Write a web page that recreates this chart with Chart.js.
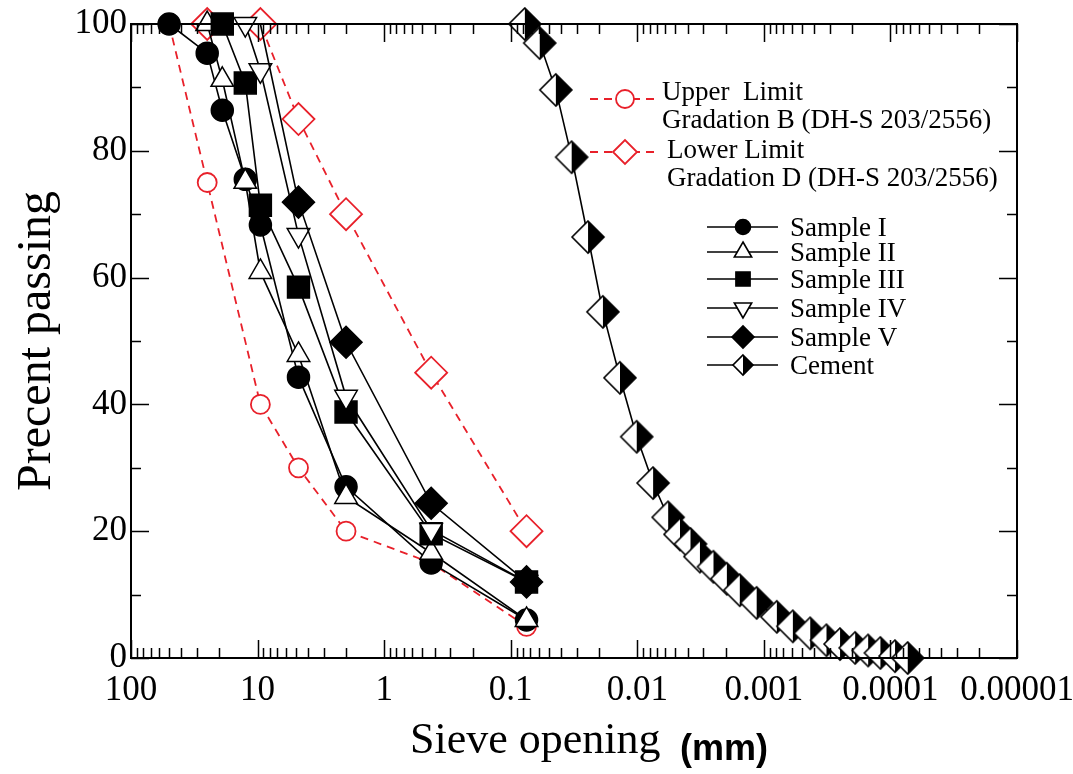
<!DOCTYPE html>
<html lang="en">
<head>
<meta charset="UTF-8">
<title>Gradation curves</title>
<style>
  body { margin: 0; background: #fff; }
  #wrap { width: 1073px; height: 774px; }
</style>
</head>
<body>
<div id="wrap"><canvas id="chart" width="1073" height="774"></canvas></div>
<script src="https://cdn.jsdelivr.net/npm/chart.js"></script>
<script>
// sieve opening (mm) / percent passing
const upperX = [50, 25, 9.5, 4.75, 2.0, 0.425, 0.075];
const upperY = [100, 75, 40, 30, 20, 15, 5];
const lowerX = [25, 9.5, 4.75, 2.0, 0.425, 0.075];
const lowerY = [100, 100, 85, 70, 45, 20];

const s1X = [50, 25, 19, 12.5, 9.5, 4.75, 2.0, 0.425, 0.075];
const s1Y = [100, 95.4, 86.4, 75.5, 68.3, 44.3, 27, 15, 6];
const s2X = [25, 19, 12.5, 9.5, 4.75, 2.0, 0.425, 0.075];
const s2Y = [100, 91.2, 75.1, 60.9, 47.8, 25.4, 16.6, 6];
const s3X = [19, 12.5, 9.5, 4.75, 2.0, 0.425, 0.075];
const s3Y = [100, 90.7, 71.4, 58.5, 38.8, 19.6, 12];
const s4X = [12.5, 9.5, 4.75, 2.0, 0.425, 0.075];
const s4Y = [100, 92.7, 66.7, 41.2, 20.2, 12];
const s5X = [9.5, 4.75, 2.0, 0.425, 0.075];
const s5Y = [100, 71.9, 49.8, 24.4, 12];

const cementX = [0.0773, 0.059, 0.044, 0.033, 0.0245, 0.0187, 0.0137, 0.0101, 0.0075, 0.0057,
  0.0046, 0.0038, 0.0032, 0.0025, 0.00196, 0.00155, 0.00114, 0.00079, 0.00059, 0.00043,
  0.00032, 0.00025, 0.00019, 0.00015, 0.00012, 0.000092, 0.000073];
const cementY = [100, 97, 89.6, 79, 66.4, 54.6, 44.2, 34.9, 27.6, 22.2,
  19.5, 18, 16, 14.4, 12.5, 10.7, 8.7, 6.5, 5, 3.9,
  2.8, 2.2, 1.6, 1.2, 0.8, 0.3, 0];

const xTickValues = [100, 10, 1, 0.1, 0.01, 0.001, 0.0001, 0.00001];
const xTickLabels = ['100', '10', '1', '0.1', '0.01', '0.001', '0.0001', '0.00001'];
const yTickValues = [0, 20, 40, 60, 80, 100];
const yTickLabels = ['0', '20', '40', '60', '80', '100'];

const RED = '#e8202a';
const SERIF = '"Liberation Serif", "DejaVu Serif", serif';

const pts = (xs, ys) => xs.map((x, i) => ({ x: x, y: ys[i] }));

function cementMarker(h) {
  const c = document.createElement('canvas');
  const s = Math.ceil(2 * h + 4);
  c.width = c.height = s;
  const g = c.getContext('2d');
  const m = s / 2;
  const diamond = () => {
    g.beginPath();
    g.moveTo(m, m - h); g.lineTo(m + h, m); g.lineTo(m, m + h); g.lineTo(m - h, m);
    g.closePath();
  };
  diamond(); g.fillStyle = '#fff'; g.fill();
  g.beginPath();
  g.moveTo(m, m - h); g.lineTo(m + h, m); g.lineTo(m, m + h); g.closePath();
  g.fillStyle = '#000'; g.fill();
  diamond(); g.lineWidth = 1.6; g.strokeStyle = '#000'; g.stroke();
  return c;
}
const cementBig = cementMarker(16);
const cementSmall = cementMarker(10);

// frame with inward ticks, all four sides
const framePlugin = {
  id: 'frame',
  afterDraw(chart) {
    const ctx = chart.ctx, a = chart.chartArea;
    const xs = chart.scales.x, ys = chart.scales.y;
    ctx.save();
    ctx.strokeStyle = '#000';
    ctx.lineWidth = 2;
    ctx.strokeRect(a.left, a.top, a.right - a.left, a.bottom - a.top);
    ctx.lineWidth = 1.5;
    ctx.beginPath();
    for (let e = -5; e <= 2; e++) {
      for (let k = 1; k <= 9; k++) {
        const v = k * Math.pow(10, e);
        if (v > 100.0001 || (e === 2 && k > 1)) continue;
        const px = Math.round(xs.getPixelForValue(v)) + 0.5;
        const len = k === 1 ? 18 : 10;
        ctx.moveTo(px, a.bottom); ctx.lineTo(px, a.bottom - len);
        ctx.moveTo(px, a.top); ctx.lineTo(px, a.top + len);
      }
    }
    for (let v = 0; v <= 100; v += 10) {
      const py = Math.round(ys.getPixelForValue(v)) + 0.5;
      const len = v % 20 === 0 ? 18 : 10;
      ctx.moveTo(a.left, py); ctx.lineTo(a.left + len, py);
      ctx.moveTo(a.right, py); ctx.lineTo(a.right - len, py);
    }
    ctx.stroke();

    // axis titles
    ctx.fillStyle = '#000';
    ctx.save();
    ctx.translate(50, (a.top + a.bottom) / 2);
    ctx.rotate(-Math.PI / 2);
    ctx.font = '48px ' + SERIF;
    ctx.textAlign = 'center';
    ctx.textBaseline = 'alphabetic';
    ctx.fillText('Precent passing', 0, 0);
    ctx.restore();
    ctx.textAlign = 'left';
    ctx.font = '44px ' + SERIF;
    ctx.fillText('Sieve opening', 410, 753);
    ctx.font = 'bold 36px "Liberation Sans", Arial, sans-serif';
    ctx.fillText('(mm)', 680, 760);
    ctx.restore();
  }
};

const legendPlugin = {
  id: 'customLegend',
  afterDraw(chart) {
    const ctx = chart.ctx;
    const H = Chart.helpers;
    ctx.save();
    ctx.font = '27px ' + SERIF;
    ctx.fillStyle = '#000';
    ctx.textAlign = 'left';
    ctx.textBaseline = 'alphabetic';

    // red limits
    const redRows = [
      { y: 99, style: 'circle', r: 9, l1: 'Upper  Limit', l2: 'Gradation B (DH-S 203/2556)', tx: 662, b1: 100, b2: 128 },
      { y: 152, style: 'rectRot', r: 12, l1: 'Lower Limit', l2: 'Gradation D (DH-S 203/2556)', tx: 667, b1: 158, b2: 186 }
    ];
    redRows.forEach(row => {
      ctx.save();
      ctx.strokeStyle = RED;
      ctx.lineWidth = 1.8;
      ctx.setLineDash([8, 6]);
      ctx.beginPath();
      ctx.moveTo(590, row.y); ctx.lineTo(656, row.y);
      ctx.stroke();
      ctx.setLineDash([]);
      ctx.fillStyle = '#fff';
      H.drawPoint(ctx, { pointStyle: row.style, radius: row.r, borderWidth: 1.8, rotation: 0 }, 625, row.y);
      ctx.restore();
      ctx.fillText(row.l1, row.tx, row.b1);
      ctx.fillText(row.l2, row.tx, row.b2);
    });

    // samples
    const rows = [
      { label: 'Sample I', style: 'circle', r: 7.5, fill: '#000', rot: 0 },
      { label: 'Sample II', style: 'triangle', r: 10, fill: '#fff', rot: 0 },
      { label: 'Sample III', style: 'rect', r: 10, fill: '#000', rot: 0 },
      { label: 'Sample IV', style: 'triangle', r: 10, fill: '#fff', rot: 180 },
      { label: 'Sample V', style: 'rectRot', r: 11, fill: '#000', rot: 0 },
      { label: 'Cement', style: cementSmall, r: 10, fill: '#000', rot: 0 }
    ];
    const ys = [227, 252, 279, 308, 337, 365];
    rows.forEach((row, i) => {
      const y = ys[i];
      ctx.save();
      ctx.strokeStyle = '#000';
      ctx.lineWidth = 1.6;
      ctx.beginPath();
      ctx.moveTo(707, y); ctx.lineTo(778, y);
      ctx.stroke();
      ctx.fillStyle = row.fill;
      H.drawPoint(ctx, { pointStyle: row.style, radius: row.r, borderWidth: 1.5, rotation: row.rot }, 743, y);
      ctx.restore();
      ctx.fillText(row.label, 790, y + 9);
    });
    ctx.restore();
  }
};

function sample(label, data, style, r, fill, rot, order) {
  return {
    label: label, data: data, order: order,
    borderColor: '#000', borderWidth: 1.6, backgroundColor: fill,
    pointStyle: style, pointRadius: r, pointRotation: rot,
    pointBorderColor: '#000', pointBackgroundColor: fill, pointBorderWidth: 1.5,
    tension: 0, clip: false
  };
}

const datasets = [
  {
    label: 'Upper Limit', data: pts(upperX, upperY), order: 10,
    borderColor: RED, borderWidth: 1.8, borderDash: [8, 6],
    pointStyle: 'circle', pointRadius: 9.5, pointBorderColor: RED,
    pointBackgroundColor: '#fff', pointBorderWidth: 1.8, clip: false
  },
  {
    label: 'Lower Limit', data: pts(lowerX, lowerY), order: 9,
    borderColor: RED, borderWidth: 1.8, borderDash: [8, 6],
    pointStyle: 'rectRot', pointRadius: 16, pointBorderColor: RED,
    pointBackgroundColor: '#fff', pointBorderWidth: 1.8, clip: false
  },
  sample('Sample I', pts(s1X, s1Y), 'circle', 11, '#000', 0, 6),
  sample('Sample II', pts(s2X, s2Y), 'triangle', 13, '#fff', 0, 5),
  sample('Sample III', pts(s3X, s3Y), 'rect', 15.5, '#000', 0, 4),
  sample('Sample IV', pts(s4X, s4Y), 'triangle', 13, '#fff', 180, 3),
  sample('Sample V', pts(s5X, s5Y), 'rectRot', [0, 16, 16, 16, 16], '#000', 0, 2),
  {
    label: 'Cement', data: pts(cementX, cementY), order: 1,
    borderColor: '#000', borderWidth: 1.6,
    pointStyle: cementBig, pointRadius: 16, clip: false
  }
];

new Chart(document.getElementById('chart'), {
  type: 'line',
  data: { datasets: datasets },
  options: {
    responsive: false,
    animation: false,
    devicePixelRatio: 1,
    layout: { padding: { left: 0, right: 56, top: 24, bottom: 0 } },
    plugins: { legend: { display: false }, tooltip: { enabled: false } },
    scales: {
      x: {
        type: 'logarithmic', reverse: true, min: 0.00001, max: 100,
        afterBuildTicks: s => { s.ticks = xTickValues.map(v => ({ value: v })); },
        afterFit: s => { s.height = 116; s.paddingLeft = 0; s.paddingRight = 0; },
        grid: { display: false, drawTicks: false },
        border: { display: false },
        ticks: {
          callback: (v, i) => xTickLabels[i],
          color: '#000', font: { family: SERIF, size: 35 },
          padding: 12, maxRotation: 0, autoSkip: false
        }
      },
      y: {
        min: 0, max: 100,
        afterBuildTicks: s => { s.ticks = yTickValues.map(v => ({ value: v })); },
        afterFit: s => { s.width = 131; s.paddingTop = 0; s.paddingBottom = 0; },
        grid: { display: false, drawTicks: false },
        border: { display: false },
        ticks: {
          callback: (v, i) => yTickLabels[i],
          color: '#000', font: { family: SERIF, size: 35 },
          padding: 4
        }
      }
    }
  },
  plugins: [framePlugin, legendPlugin]
});
</script>
</body>
</html>
